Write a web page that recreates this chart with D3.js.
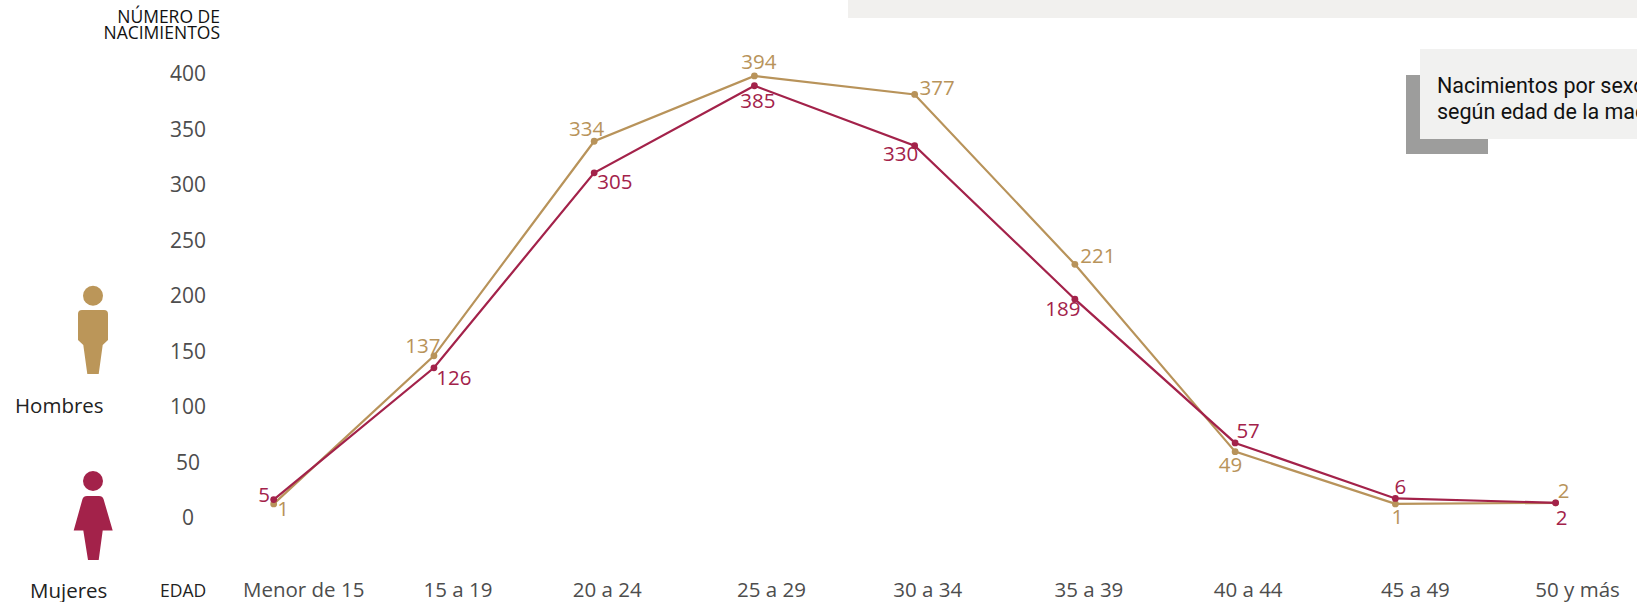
<!DOCTYPE html>
<html lang="es">
<head>
<meta charset="utf-8">
<title>Nacimientos por sexo según edad de la madre</title>
<script src="https://cdn.jsdelivr.net/npm/d3@7"></script>
<style>
  html, body { margin: 0; padding: 0; background: #fff; overflow: hidden; }
  svg { display: block; }
  text { font-family: "Open Sans", "Noto Sans", sans-serif; font-stretch: 88%; }
</style>
</head>
<body>
<svg width="1637" height="602"></svg>
<script>
const edades = ["Menor de 15", "15 a 19", "20 a 24", "25 a 29", "30 a 34", "35 a 39", "40 a 44", "45 a 49", "50 y más"];
const hombres = [1, 137, 334, 394, 377, 221, 49, 1, 2];
const mujeres = [5, 126, 305, 385, 330, 189, 57, 6, 2];
const ticksNacimientos = [0, 50, 100, 150, 200, 250, 300, 350, 400];

// hand placed labels, as in the original
const hombresOffset = [[9.5, 5], [-11, -10.5], [-7.6, -13], [4.5, -14], [22.5, -6.7], [23, -9], [-4.6, 13], [2, 13], [8, -12]];
const mujeresOffset = [[-9.7, -5], [20, 10], [20.7, 8.6], [3.5, 15], [-14, 8], [-12, 9], [13, -12], [5, -12], [6, 15]];
const edadOffset = [30, 24, 13, 17, 13, 14, 13, 20, 22];

const oro = "#b8935a";
const guinda = "#a3224a";

const svg = d3.select("svg");

const x = d3.scalePoint().domain(edades).range([273.7, 1555.6]);
const y = d3.scaleLinear().domain([0, 400]).range([505, 69.4]);
// the printed axis does not line up with the marks in the original, so it has its own scale
const yAxisScale = d3.scaleLinear().domain([0, 400]).range([518, 74]);

// panels cut off by the page edge
svg.append("rect").attr("x", 848).attr("y", 0).attr("width", 789).attr("height", 18).attr("fill", "#f1f0ee");
svg.append("rect").attr("x", 1406).attr("y", 75).attr("width", 82).attr("height", 79).attr("fill", "#9d9d9c");
svg.append("rect").attr("x", 1420).attr("y", 49).attr("width", 217).attr("height", 90).attr("fill", "#f1f1f0");
svg.append("text").attr("x", 1437).attr("y", 93).text("Nacimientos por sexo")
  .attr("font-size", 21.5).style("font-family", "Roboto").style("font-stretch", "normal").attr("fill", "#111");
svg.append("text").attr("x", 1437).attr("y", 119).text("según edad de la madre")
  .attr("font-size", 21.5).style("font-family", "Roboto").style("font-stretch", "normal").attr("fill", "#111");

// y axis
const yAxis = svg.append("g")
  .attr("transform", "translate(205,0)")
  .call(d3.axisLeft(yAxisScale).tickValues(ticksNacimientos).tickSize(0).tickPadding(0));
yAxis.select(".domain").remove();
yAxis.selectAll("text")
  .attr("x", -17)
  .attr("text-anchor", "middle")
  .attr("font-size", 21)
  .style("font-family", null)
  .attr("fill", "#4d4d4d");

svg.append("text").attr("x", 220).attr("y", 23).attr("text-anchor", "end")
  .attr("font-size", 17.5).attr("fill", "#111").text("NÚMERO DE");
svg.append("text").attr("x", 220).attr("y", 39).attr("text-anchor", "end")
  .attr("font-size", 17.5).attr("fill", "#111").text("NACIMIENTOS");

// x labels
svg.append("text").attr("x", 160).attr("y", 597).attr("font-size", 17.5).attr("fill", "#222").text("EDAD");
svg.append("g").selectAll("text")
  .data(edades)
  .join("text")
  .attr("x", (d, i) => x(d) + edadOffset[i])
  .attr("y", 597)
  .attr("text-anchor", "middle")
  .attr("font-size", 20.5)
  .attr("fill", "#4d4d4d")
  .text(d => d);

const line = d3.line().x((d, i) => x(edades[i])).y(d => y(d));

function drawSerie(values, offsets, color) {
  const g = svg.append("g");
  g.append("path")
    .attr("d", line(values))
    .attr("fill", "none")
    .attr("stroke", color)
    .attr("stroke-width", 2.2);
  g.selectAll("circle")
    .data(values)
    .join("circle")
    .attr("cx", (d, i) => x(edades[i]))
    .attr("cy", d => y(d))
    .attr("r", 3.4)
    .attr("fill", color);
  g.selectAll("text")
    .data(values)
    .join("text")
    .attr("x", (d, i) => x(edades[i]) + offsets[i][0])
    .attr("y", (d, i) => y(d) + offsets[i][1])
    .attr("dy", "0.36em")
    .attr("text-anchor", "middle")
    .attr("font-size", 20.5)
    .attr("fill", color)
    .text(d => d);
}

drawSerie(hombres, hombresOffset, oro);
drawSerie(mujeres, mujeresOffset, guinda);

// legend figures
const hombreIcon = svg.append("g").attr("fill", "#bb9659");
hombreIcon.append("circle").attr("cx", 93).attr("cy", 295.7).attr("r", 10);
hombreIcon.append("path").attr("d", "M82,310H104Q108,310 108,314V340L102.7,345L98.7,374H87.3L83.3,345L78,340V314Q78,310 82,310Z");

const mujerIcon = svg.append("g").attr("fill", guinda);
mujerIcon.append("circle").attr("cx", 93).attr("cy", 481).attr("r", 10);
mujerIcon.append("path").attr("d", "M87,496H99Q102.5,496 103.5,499L112.7,530.5H102.7L98.7,560H88L83.3,530.5H73.7L82.5,499Q83.5,496 87,496Z");

svg.append("text").attr("x", 15).attr("y", 413).attr("font-size", 20.5).attr("fill", "#222").text("Hombres");
svg.append("text").attr("x", 30).attr("y", 598).attr("font-size", 20.5).attr("fill", "#222").text("Mujeres");
</script>
</body>
</html>
